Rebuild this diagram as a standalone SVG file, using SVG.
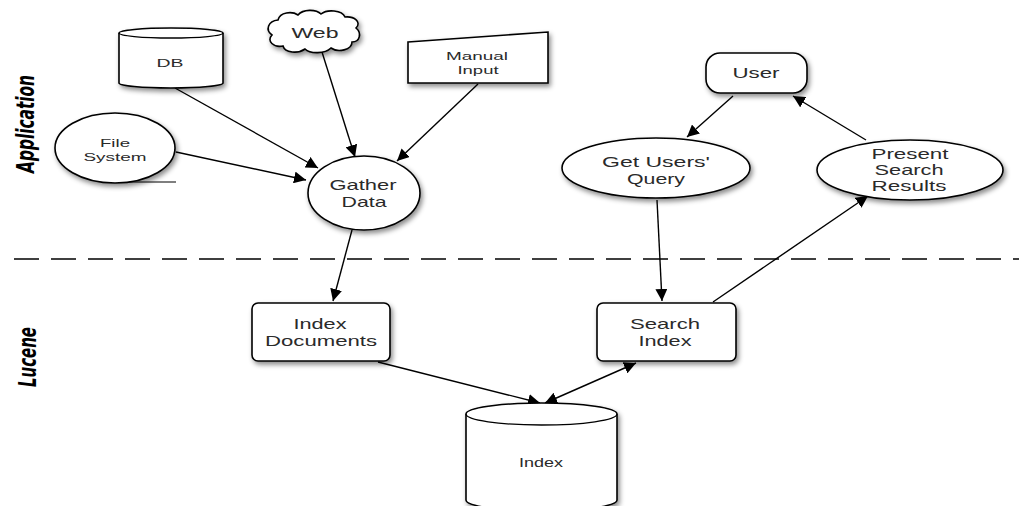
<svg xmlns="http://www.w3.org/2000/svg" width="1019" height="506" viewBox="0 0 1019 506">
<defs>
<style>
.n{fill:#fff;stroke:#000;stroke-width:1.6;filter:url(#sh)}
.t{font-family:"Liberation Sans",Arial,sans-serif;fill:#2a2a2a;text-anchor:middle}
.c{stroke:#000;stroke-width:1.4;fill:none;marker-end:url(#ah)}
.side{font-family:"DejaVu Sans",sans-serif;font-style:italic;font-weight:bold;font-stretch:condensed;fill:#000;text-anchor:middle}
</style>
<filter id="sh" x="-20%" y="-20%" width="150%" height="160%">
<feDropShadow dx="2" dy="3" stdDeviation="2.5" flood-color="#000" flood-opacity="0.45"/>
</filter>
<marker id="ah" viewBox="0 0 10 10" refX="10" refY="5" markerWidth="12" markerHeight="12" markerUnits="userSpaceOnUse" orient="auto-start-reverse">
<path d="M0,0 L10,5 L0,10 z" fill="#000"/>
</marker>
</defs>
<rect width="1019" height="506" fill="#fff"/>

<text class="side" font-size="25" transform="translate(34,124) rotate(-90)" textLength="98" lengthAdjust="spacingAndGlyphs">Application</text>
<text class="side" font-size="25" transform="translate(36,357) rotate(-90)" textLength="60" lengthAdjust="spacingAndGlyphs">Lucene</text>
<line x1="14" y1="259" x2="1019" y2="259" stroke="#000" stroke-width="1.3" stroke-dasharray="25,12"/>

<g id="connectors">
<line class="c" x1="175" y1="88" x2="318" y2="168"/>
<line class="c" x1="176" y1="152" x2="306" y2="180"/>
<line class="c" x1="322" y1="52" x2="355" y2="157"/>
<line class="c" x1="478" y1="84" x2="397" y2="161"/>
<line class="c" x1="352" y1="230" x2="333" y2="301"/>
<line class="c" x1="733" y1="96" x2="687" y2="137"/>
<line class="c" x1="866" y1="140" x2="793" y2="96"/>
<line class="c" x1="657" y1="200" x2="662" y2="301"/>
<line class="c" x1="713" y1="302" x2="868" y2="196"/>
<line class="c" x1="378" y1="362" x2="540" y2="403"/>
<line class="c" x1="636" y1="363" x2="545" y2="403" marker-start="url(#ah)"/>
<line x1="125" y1="182" x2="176" y2="182" stroke="#000" stroke-width="1.2"/>
</g>

<g id="db">
<path class="n" d="M119,33 A52,5 0 0 1 223,33 L223,83 A52,5 0 0 1 119,83 Z"/>
<path d="M119,33 A52,5 0 0 0 223,33" fill="none" stroke="#000" stroke-width="1.3"/>
<text class="t" x="170" y="67" font-size="11.5" textLength="27" lengthAdjust="spacingAndGlyphs">DB</text>
</g>

<g id="filesystem">
<ellipse class="n" cx="115" cy="148" rx="60" ry="35"/>
<text class="t" x="115" y="147" font-size="11.5" textLength="30" lengthAdjust="spacingAndGlyphs">File</text>
<text class="t" x="115" y="161" font-size="11.5" textLength="63" lengthAdjust="spacingAndGlyphs">System</text>
</g>

<g id="web">
<path class="n" d="M278,20 C280,12 292,11 298,15 C303,9 316,9 321,14 C327,9 342,10 345,17 C354,16 362,22 356,28 C362,33 360,42 352,42 C352,50 338,53 331,48 C325,54 310,54 305,49 C298,54 285,53 283,46 C274,48 266,41 272,35 C265,30 268,21 278,20 Z"/>
<text class="t" x="315" y="38" font-size="14" textLength="47" lengthAdjust="spacingAndGlyphs">Web</text>
</g>

<g id="manual">
<path class="n" d="M408,42 L548,32 L548,83 L408,83 Z"/>
<text class="t" x="477" y="60" font-size="11.5" textLength="62" lengthAdjust="spacingAndGlyphs">Manual</text>
<text class="t" x="478" y="74" font-size="11.5" textLength="41" lengthAdjust="spacingAndGlyphs">Input</text>
</g>

<g id="gather">
<ellipse class="n" cx="364" cy="193" rx="56" ry="37"/>
<text class="t" x="363" y="190" font-size="15" textLength="67" lengthAdjust="spacingAndGlyphs">Gather</text>
<text class="t" x="364" y="207" font-size="15" textLength="45" lengthAdjust="spacingAndGlyphs">Data</text>
</g>

<g id="user">
<rect class="n" x="706" y="53" width="101" height="40" rx="14"/>
<text class="t" x="756" y="78" font-size="15" textLength="47" lengthAdjust="spacingAndGlyphs">User</text>
</g>

<g id="getquery">
<ellipse class="n" cx="656" cy="168" rx="94" ry="30"/>
<text class="t" x="656" y="167" font-size="15" textLength="108" lengthAdjust="spacingAndGlyphs">Get Users'</text>
<text class="t" x="656" y="184" font-size="15" textLength="58" lengthAdjust="spacingAndGlyphs">Query</text>
</g>

<g id="present">
<ellipse class="n" cx="910" cy="170" rx="93" ry="30"/>
<text class="t" x="910" y="159" font-size="15" textLength="77" lengthAdjust="spacingAndGlyphs">Present</text>
<text class="t" x="909" y="175" font-size="15" textLength="69" lengthAdjust="spacingAndGlyphs">Search</text>
<text class="t" x="909" y="191" font-size="15" textLength="75" lengthAdjust="spacingAndGlyphs">Results</text>
</g>

<g id="indexdocs">
<rect class="n" x="252" y="303" width="138" height="58" rx="6"/>
<text class="t" x="320" y="329" font-size="15" textLength="53" lengthAdjust="spacingAndGlyphs">Index</text>
<text class="t" x="321" y="346" font-size="15" textLength="112" lengthAdjust="spacingAndGlyphs">Documents</text>
</g>

<g id="searchindex">
<rect class="n" x="597" y="303" width="139" height="58" rx="6"/>
<text class="t" x="665" y="329" font-size="15" textLength="70" lengthAdjust="spacingAndGlyphs">Search</text>
<text class="t" x="665" y="346" font-size="15" textLength="53" lengthAdjust="spacingAndGlyphs">Index</text>
</g>

<g id="index">
<path class="n" d="M466,414 A75.5,11 0 0 1 617,414 L617,500 A75.5,11 0 0 1 466,500 Z"/>
<path d="M466,414 A75.5,11 0 0 0 617,414" fill="none" stroke="#000" stroke-width="1.3"/>
<text class="t" x="541" y="467" font-size="12" textLength="44" lengthAdjust="spacingAndGlyphs">Index</text>
</g>
</svg>
